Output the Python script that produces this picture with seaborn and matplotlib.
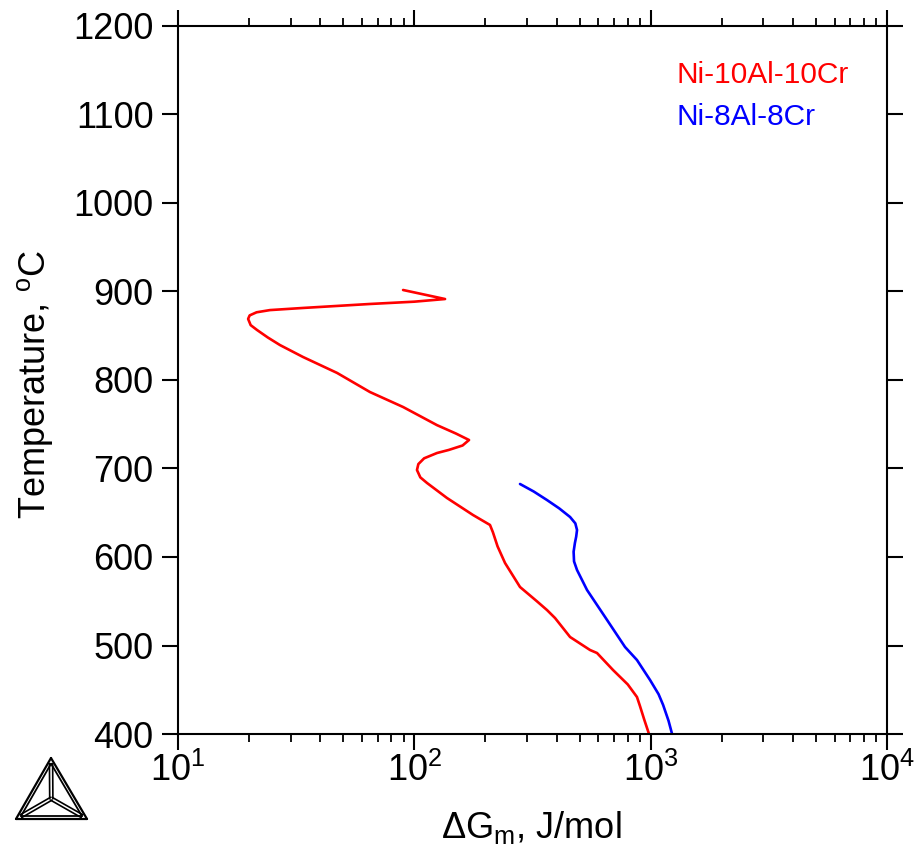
import matplotlib
matplotlib.use("Agg")
import matplotlib.pyplot as plt
from matplotlib.lines import Line2D
import seaborn as sns
import pandas as pd
import numpy as np

# ---- data ----
red_label = "Ni-10Al-10Cr"
red_dG = [89.6, 134.9, 100.0, 64.9, 33.8, 24.5, 21.5, 20.1, 19.8, 20.3, 21.6, 24.0, 27.0,
          33.8, 47.1, 64.9, 89.6, 124.7, 150.0, 170.4, 160.0, 140.0, 124.7, 110.0, 104.0,
          102.6, 106.0, 113.2, 137.4, 177.0, 209.0, 215.0, 225.0, 242.0, 280.0, 330.0,
          364.4, 394.0, 456.0, 554.0, 593.0, 693.0, 800.0, 875.0, 900.0, 940.0, 984.0]
red_T = [901.7, 891.5, 888.5, 885.9, 881.4, 879.0, 876.5, 873.0, 869.0, 862.0, 856.5, 848.0, 839.5,
         826.0, 808.0, 786.4, 769.5, 749.0, 739.5, 732.2, 726.0, 721.0, 717.5, 711.5, 705.0,
         698.3, 690.0, 683.6, 666.7, 647.5, 636.2, 628.0, 612.0, 593.2, 566.1, 550.0,
         540.0, 531.0, 509.6, 494.9, 491.5, 472.3, 456.0, 441.8, 432.0, 416.0, 400.0]

blue_label = "Ni-8Al-8Cr"
blue_dG = [280.0, 320.0, 364.0, 410.0, 456.0, 480.0, 488.0, 484.0, 478.0, 472.0, 474.0, 488.0,
           538.0, 654.0, 779.0, 875.0, 994.0, 1080.0, 1129.0, 1190.0, 1232.0]
blue_T = [682.5, 674.0, 664.4, 655.0, 645.2, 638.0, 630.5, 623.0, 615.8, 606.0, 595.0, 585.3,
          562.7, 528.8, 498.3, 483.6, 461.0, 445.0, 432.8, 415.0, 400.0]

y_ticks = [400, 500, 600, 700, 800, 900, 1000, 1100, 1200]
x_limits = [10, 1e4]
y_limits = [400, 1200]

df = pd.concat([
    pd.DataFrame({"dG": red_dG, "T": red_T, "alloy": red_label}),
    pd.DataFrame({"dG": blue_dG, "T": blue_T, "alloy": blue_label}),
], ignore_index=True)

sns.set_style("ticks")
plt.rcParams["font.family"] = ["Liberation Sans", "DejaVu Sans"]
plt.rcParams["mathtext.fontset"] = "custom"
plt.rcParams["mathtext.rm"] = "Liberation Sans"
plt.rcParams["mathtext.it"] = "Liberation Sans:italic"
plt.rcParams["mathtext.bf"] = "Liberation Sans:bold"
plt.rcParams["text.color"] = "black"
plt.rcParams["axes.labelcolor"] = "black"
plt.rcParams["xtick.color"] = "black"
plt.rcParams["ytick.color"] = "black"

W, H = 916, 856
fig = plt.figure(figsize=(W / 100, H / 100), dpi=100)
L, R, T, B = 178, 887, 26, 734
ax = fig.add_axes([L / W, 1 - B / H, (R - L) / W, (B - T) / H])

colors = {red_label: "#ff0000", blue_label: "#0000ff"}
sns.lineplot(data=df, x="dG", y="T", hue="alloy", units="alloy", estimator=None,
             sort=False, palette=colors, linewidth=1.9, legend=False, ax=ax)

ax.set_xscale("log")
ax.set_xlim(*x_limits)
ax.set_ylim(*y_limits)
ax.set_yticks(y_ticks)

for s in ax.spines.values():
    s.set_visible(True)
    s.set_linewidth(1.5)
    s.set_color("black")

ax.tick_params(which="both", direction="out", top=True, right=True,
               labeltop=False, labelright=False, color="black", labelcolor="black")
ax.tick_params(which="major", length=11.5, width=1.5, labelsize=26)
ax.tick_params(which="minor", length=5.8, width=1.3)
ax.tick_params(axis="y", which="minor", left=False, right=False)
ax.tick_params(axis="y", which="major", pad=6)
ax.tick_params(axis="x", which="major", pad=2)

ax.set_xlabel(r"$\Delta$G$_\mathrm{m}$, J/mol", fontsize=26)
ax.set_ylabel(r"Temperature, $^\mathrm{o}$C", fontsize=26)
ax.xaxis.label.set_va("center")
ax.yaxis.label.set_va("center")
ax.xaxis.set_label_coords((531 - L) / (R - L), (B - 828) / (B - T))
ax.yaxis.set_label_coords((35 - L) / (R - L), (B - 385) / (B - T))

ax.text((676 - L) / (R - L), (B - 83) / (B - T), red_label, color=colors[red_label],
        fontsize=21.5, transform=ax.transAxes, ha="left", va="baseline")
ax.text((676 - L) / (R - L), (B - 125) / (B - T), blue_label, color=colors[blue_label],
        fontsize=21.5, transform=ax.transAxes, ha="left", va="baseline")

# ---- Thermo-Calc style logo (decoration) ----
def P(x, y):
    return x / W, 1 - y / H

def seg(p, q, lw=1.4):
    (x0, y0), (x1, y1) = P(*p), P(*q)
    fig.add_artist(Line2D([x0, x1], [y0, y1], transform=fig.transFigure,
                          color="black", linewidth=lw, solid_capstyle="round"))

apex, bl, br = (51, 758), (16, 819), (87, 819)
cx, cy = 51.3, 798.7
for a, b in [(apex, bl), (bl, br), (br, apex)]:
    seg(a, b, lw=1.6)

def inset(p, f):
    return (cx + (p[0] - cx) * f, cy + (p[1] - cy) * f)

ia, ib, ic = inset(apex, 0.86), inset(bl, 0.86), inset(br, 0.86)
for a, b in [(ia, ib), (ib, ic), (ic, ia)]:
    seg(a, b, lw=1.3)
for v in (ia, ib, ic):
    dx, dy = v[0] - cx, v[1] - cy
    n = np.hypot(dx, dy)
    ox, oy = -dy / n * 1.6, dx / n * 1.6
    seg((cx + ox, cy + oy), (v[0] + ox, v[1] + oy), lw=1.2)
    seg((cx - ox, cy - oy), (v[0] - ox, v[1] - oy), lw=1.2)

fig.savefig("out.png", dpi=100)
